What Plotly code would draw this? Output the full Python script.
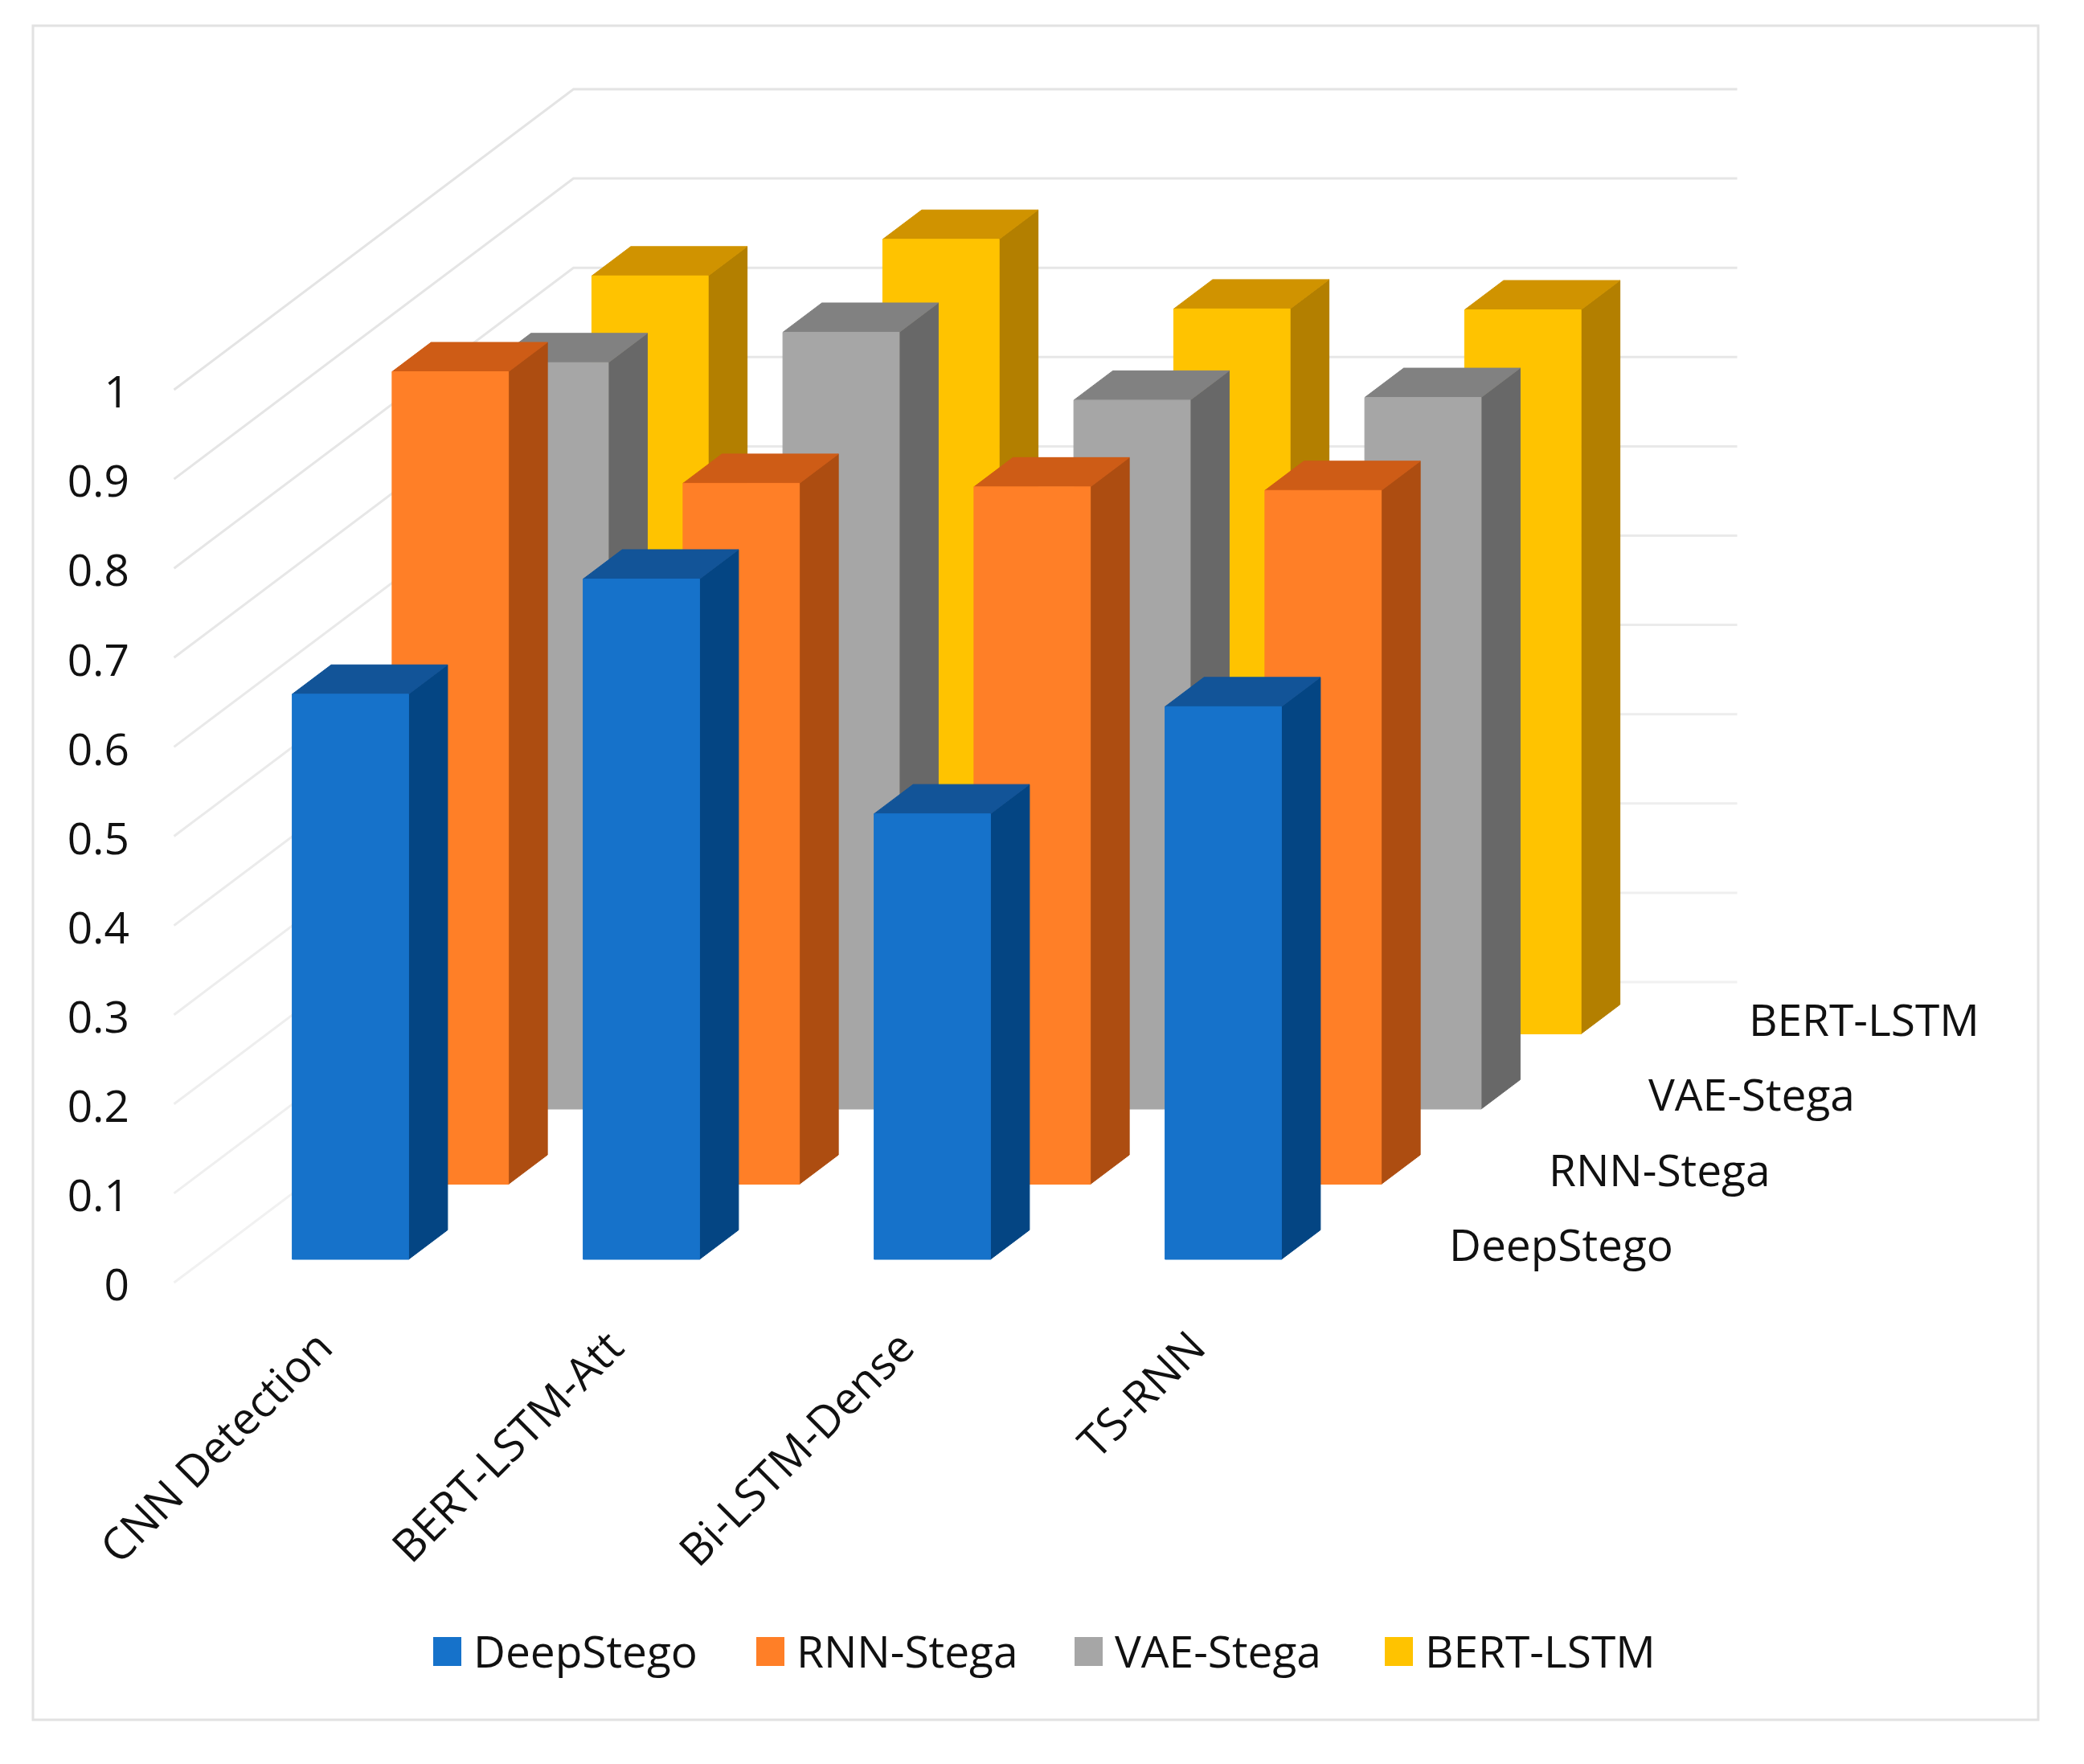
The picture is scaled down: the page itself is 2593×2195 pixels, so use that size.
import plotly.graph_objects as go

# Chart values
categories = ['CNN Detection', 'BERT-LSTM-Att', 'Bi-LSTM-Dense', 'TS-RNN']
series_names = ['DeepStego', 'RNN-Stega', 'VAE-Stega', 'BERT-LSTM']
deepstego = [0.633, 0.762, 0.499, 0.619]
rnn_stega = [0.910, 0.785, 0.781, 0.777]
vae_stega = [0.836, 0.870, 0.794, 0.797]
bert_lstm = [0.849, 0.890, 0.812, 0.811]
value_ticks = [0, 0.1, 0.2, 0.3, 0.4, 0.5, 0.6, 0.7, 0.8, 0.9, 1]
tick_labels = ['0', '0.1', '0.2', '0.3', '0.4', '0.5', '0.6', '0.7', '0.8', '0.9', '1']

series_values = [deepstego, rnn_stega, vae_stega, bert_lstm]

# Colors as (front, side, top)
colors = [('#1672CA', '#044583', '#125498'),
          ('#FF7F27', '#AD4D11', '#CE5C16'),
          ('#A6A6A6', '#686868', '#818181'),
          ('#FFC300', '#B37F00', '#D09300')]
text_color = '#111111'
font_name = 'Open Sans'
font_size = 55

# Page and plot area, in pixels
W, H = 2593, 2195
left, bottom = 162, 563

# One category and one value unit in pixels, and where c=0, v=0 sits
cat_px, val_px = 362, 1111
origin_x, origin_y = 216.5, 1596

# Oblique projection: moving back one series shifts right and up
depth_x = 124.25 / cat_px
depth_y = 93.5 / val_px

# Bar footprint inside its cell
bar_c = (0.3, 0.7)
bar_s = (0.31, 0.70)


def project(c, s, v):
    return c + s * depth_x, v + s * depth_y


def px_to_paper(px, py):
    return (px - left) / (W - left), (H - bottom - py) / (H - bottom)


# Adds one polygon per bar to the lists of a face, split by None
def add_face(xs, ys, corners):
    for c, s, v in corners + corners[:1]:
        x, y = project(c, s, v)
        xs.append(x)
        ys.append(y)
    xs.append(None)
    ys.append(None)


fig = go.Figure()

# Floor and back wall gridlines, the lower ones are fainter in the picture
for v in value_ticks:
    x0, y0 = project(0, 0, v)
    x1, y1 = project(0, len(series_names), v)
    x2, y2 = project(len(categories), len(series_names), v)
    grey = int(241 - 13 * v)
    fig.add_trace(go.Scatter(x=[x0, x1, x2], y=[y0, y1, y2], mode='lines',
                             line=dict(color=f'rgb({grey},{grey},{grey})', width=3),
                             hoverinfo='skip', showlegend=False))

# Bars, drawn from the back series to the front one
for j in reversed(range(len(series_names))):
    front_x, front_y, side_x, side_y, top_x, top_y = [], [], [], [], [], []
    s_a = j + bar_s[0]
    s_b = j + bar_s[1]
    for i, v in enumerate(series_values[j]):
        c0 = i + bar_c[0]
        c1 = i + bar_c[1]
        add_face(side_x, side_y, [(c1, s_a, 0), (c1, s_b, 0), (c1, s_b, v), (c1, s_a, v)])
        add_face(top_x, top_y, [(c0, s_a, v), (c1, s_a, v), (c1, s_b, v), (c0, s_b, v)])
        add_face(front_x, front_y, [(c0, s_a, 0), (c1, s_a, 0), (c1, s_a, v), (c0, s_a, v)])
    faces = [(side_x, side_y, colors[j][1]), (top_x, top_y, colors[j][2]), (front_x, front_y, colors[j][0])]
    for xs, ys, color in faces:
        fig.add_trace(go.Scatter(x=xs, y=ys, mode='lines', fill='toself', fillcolor=color,
                                 line=dict(color=color, width=1), name=series_names[j],
                                 hoverinfo='skip', showlegend=False))

annotations = []
shapes = []

# Outer frame
fx0, fy0 = px_to_paper(41, 2140)
fx1, fy1 = px_to_paper(2536, 32)
shapes.append(dict(type='rect', xref='paper', yref='paper', x0=fx0, y0=fy0, x1=fx1, y1=fy1,
                   line=dict(color='#E2E2E2', width=3), layer='below'))

# Depth axis labels next to the floor
for j, name in enumerate(series_names):
    x, y = project(len(categories) + 0.205, j + 0.5, 0.0015)
    annotations.append(dict(x=x, y=y, xref='x', yref='y', text=name, showarrow=False,
                            xanchor='left', yanchor='middle',
                            font=dict(family=font_name, size=font_size, color=text_color)))

# Legend along the bottom
legend_swatch = [539, 941, 1337, 1723]
for name, sw, cols in zip(series_names, legend_swatch, colors):
    sx0, sy0 = px_to_paper(sw, 2073)
    sx1, sy1 = px_to_paper(sw + 35, 2037)
    shapes.append(dict(type='rect', xref='paper', yref='paper', x0=sx0, y0=sy0, x1=sx1, y1=sy1,
                       fillcolor=cols[0], line=dict(width=0)))
    tx, ty = px_to_paper(sw + 48, 2053)
    annotations.append(dict(x=tx, y=ty, xref='paper', yref='paper', text=name, showarrow=False,
                            xanchor='left', yanchor='middle',
                            font=dict(family=font_name, size=font_size, color=text_color)))

fig.update_layout(
    width=W, height=H,
    margin=dict(l=left, r=0, t=0, b=bottom),
    plot_bgcolor='white', paper_bgcolor='white',
    showlegend=False,
    shapes=shapes,
    annotations=annotations,
    xaxis=dict(range=[(left - origin_x) / cat_px, (W - origin_x) / cat_px],
               tickmode='array', tickvals=[i + 0.5 for i in range(len(categories))],
               ticktext=categories, tickangle=-45, showgrid=False, zeroline=False,
               showline=False, ticks='', tickfont=dict(family=font_name, size=font_size, color=text_color)),
    yaxis=dict(range=[(origin_y - (H - bottom)) / val_px, origin_y / val_px],
               tickmode='array', tickvals=value_ticks, ticktext=tick_labels,
               ticklabelshift=3,
               showgrid=False, zeroline=False, showline=False, ticks='',
               tickfont=dict(family=font_name, size=font_size, color=text_color)),
)

fig.write_html("out.html", config=dict(displayModeBar=False),
               post_script="document.body.style.margin='0';")
